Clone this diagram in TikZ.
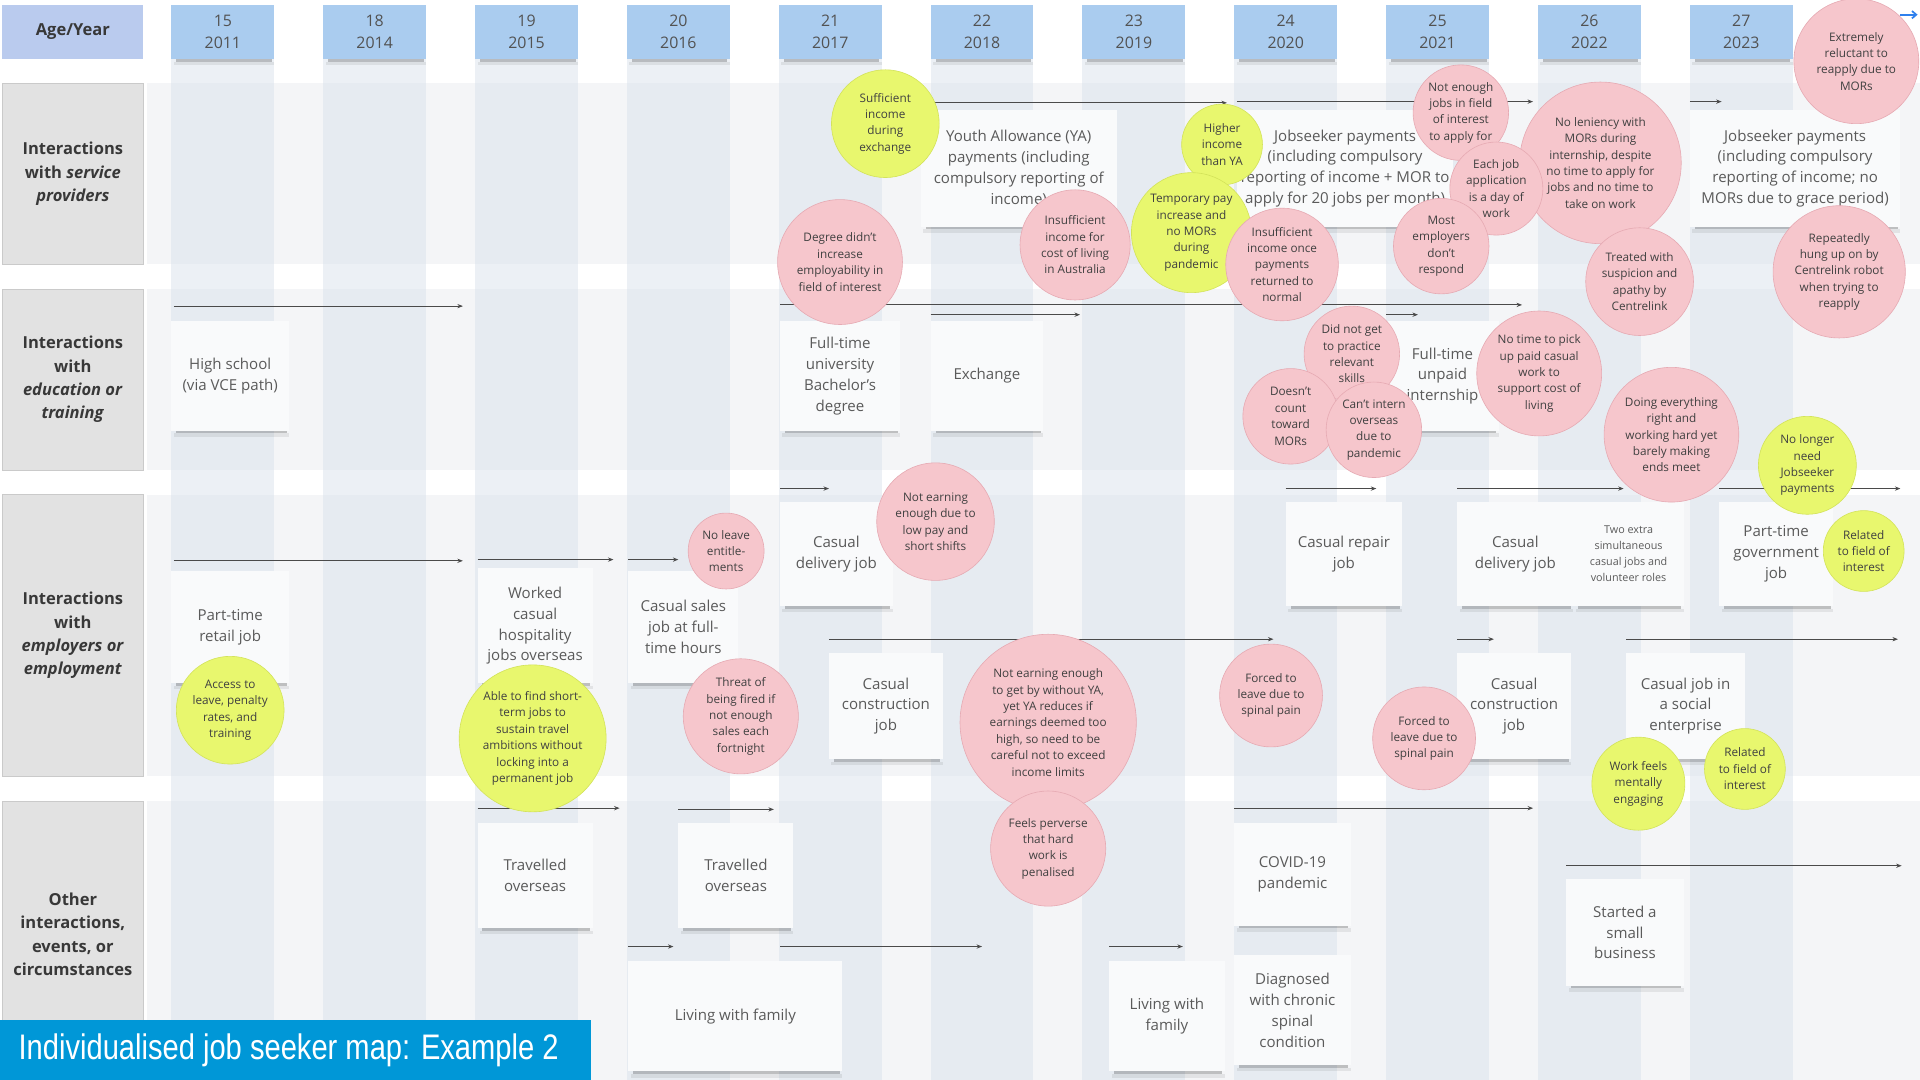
\documentclass[tikz,border=0pt]{standalone}
\usepackage{fontspec}
\setmainfont{Open Sans}
\newfontfamily\titlefont[FakeStretch=0.82]{Liberation Sans}
\usetikzlibrary{arrows.meta}
\definecolor{bandgrey}{HTML}{F4F5F7}
\definecolor{stripe}{HTML}{D6DFEB}
\definecolor{yearblue}{HTML}{AACCEF}
\definecolor{agebox}{HTML}{BACBEE}
\definecolor{labelgrey}{HTML}{E2E2E2}
\definecolor{labelborder}{HTML}{CACACA}
\definecolor{pinkc}{HTML}{F6C6CC}
\definecolor{pinkb}{HTML}{E6AAB3}
\definecolor{yelc}{HTML}{E8F76E}
\definecolor{yelb}{HTML}{D3E35A}
\definecolor{notefill}{HTML}{F9FAFB}
\definecolor{notetext}{HTML}{5A5A5A}
\definecolor{titleblue}{HTML}{0097D7}
\definecolor{arrowgrey}{HTML}{4A4A4A}
\definecolor{iconblue}{HTML}{2F80ED}
\tikzset{
  stickynote/.style={fill=notefill, inner sep=2pt, align=center, text=notetext, font=\fontsize{12.3}{17}\selectfont},
  smallnote/.style={stickynote, font=\fontsize{8.8}{13}\selectfont},
  bubble/.style={circle, inner sep=0pt, align=center, text=black!75, font=\fontsize{9.6}{13.4}\selectfont, line width=0.5pt},
  pinkbub/.style={bubble, fill=pinkc, draw=pinkb},
  yelbub/.style={bubble, fill=yelc, draw=yelb},
  tlarrow/.style={draw=arrowgrey, line width=0.9pt, -{Stealth[length=4.5pt,width=3.5pt]}},
  rowlabel/.style={fill=labelgrey, draw=labelborder, line width=0.5pt, align=center, text=black!78, inner sep=0pt, font=\fontsize{13.5}{19}\selectfont\bfseries},
  yearbox/.style={fill=yearblue, align=center, text=black!68, font=\fontsize{13}{18}\selectfont, minimum width=84pt, minimum height=44pt, inner sep=0pt},
}
% sticky note: [style], name, x1, y1, x2, y2, text
\newcommand\stick[7][stickynote]{%
  \fill[black,opacity=0.22] ({#3+4},{#6-1.5}) rectangle ({#5-2},{#6+2});
  \fill[black,opacity=0.07] ({#3+2},{#6+2}) rectangle ({#5},{#6+5});
  \node[#1, minimum width={#5-#3}, minimum height={#6-#4}] (#2) at ({(#3+#5)/2},{(#4+#6)/2}) {#7};
}
% bubble: name, x, y, r, style, text
\newcommand\bub[6]{\node[#5, minimum size={2*#4}] (#1) at (#2,#3) {#6};}
% timeline arrow: name, x1, x2, y
\newcommand\tl[4]{%
  \coordinate (#1-s) at (#2,#4); \coordinate (#1-e) at (#3,#4);
  \draw[tlarrow] (#1-s) -- (#1-e);
}
\begin{document}
\begin{tikzpicture}[x=1pt,y=-1pt]
\useasboundingbox (0,0) rectangle (1568,882);
\fill[white] (0,0) rectangle (1568,882);
% row bands
\fill[bandgrey] (120,68) rectangle (1568,216);
\fill[bandgrey] (120,236) rectangle (1568,384);
\fill[bandgrey] (120,404) rectangle (1568,634);
\fill[bandgrey] (120,654) rectangle (1568,882);
% column stripes and year boxes
\foreach \x/\a/\yr in {182/15/2011, 306/18/2014, 430/19/2015, 554/20/2016, 678/21/2017, 802/22/2018, 926/23/2019, 1050/24/2020, 1174/25/2021, 1298/26/2022, 1422/27/2023} {
  \fill[stripe, opacity=0.45] (\x-42,4) rectangle (\x+42,882);
  \fill[black, opacity=0.22] (\x-38,47) rectangle (\x+40,50.5);
  \fill[black, opacity=0.07] (\x-40,50.5) rectangle (\x+42,53);
  \node[yearbox] (yr\a) at (\x,26) {\a\\\yr};
}
\node[fill=agebox, minimum width=115pt, minimum height=44pt, inner sep=0pt, font=\fontsize{13.5}{18}\selectfont\bfseries, text=black!78] (age) at (59.5,26) {Age/Year};
% row labels
\node[rowlabel, minimum width=115pt, minimum height=148pt] (lab1) at (59.5,142) {Interactions\\with \textit{service}\\\textit{providers}};
\node[rowlabel, minimum width=115pt, minimum height=148pt] (lab2) at (59.5,310) {Interactions\\with\\\textit{education or}\\\textit{training}};
\node[rowlabel, minimum width=115pt, minimum height=230pt] (lab3) at (59.5,519) {Interactions\\with\\\textit{employers or}\\\textit{employment}};
\node[rowlabel, minimum width=115pt, minimum height=218pt] (lab4) at (59.5,763) {Other\\interactions,\\events, or\\circumstances};

% ---------- arrows ----------
% row 1
\tl{r1a}{762}{1002}{84}
\tl{r1b}{1010}{1252}{83}
\tl{r1c}{1380}{1406}{83}
% row 2
\tl{r2a}{142}{378}{250}
\tl{r2b}{637}{1243}{249}
\tl{r2c}{760}{882}{257}
\tl{r2d}{1132}{1158}{257}
% row 3
\tl{r3a}{142}{378}{458}
\tl{r3b}{390}{501}{457}
\tl{r3c}{513}{554}{457}
\tl{r3d}{637}{677}{399}
\tl{r3e}{677}{1040}{522}
\tl{r3f}{1050}{1124}{399}
\tl{r3g}{1190}{1326}{399}
\tl{r3h}{1190}{1220}{522}
\tl{r3i}{1328}{1550}{522}
\tl{r3j}{1404}{1552}{399}
% row 4
\tl{r4a}{390}{506}{660}
\tl{r4b}{554}{632}{661}
\tl{r4c}{513}{550}{773}
\tl{r4d}{637}{802}{773}
\tl{r4e}{906}{966}{773}
\tl{r4f}{1008}{1252}{660}
\tl{r4g}{1279}{1553}{707}

% ---------- sticky notes ----------
\stick{ya}{752}{90}{912}{185}{Youth Allowance (YA)\\payments (including\\compulsory reporting of\\income)}
\stick{js1}{1010}{90}{1187}{185}{Jobseeker payments\\(including compulsory\\reporting of income + MOR to\\apply for 20 jobs per month)}
\stick{js2}{1380}{90}{1552}{185}{Jobseeker payments\\(including compulsory\\reporting of income; no\\MORs due to grace period)}

\stick{hs}{140}{262}{236}{352}{High school\\(via VCE path)}
\stick{uni}{637}{262}{735}{352}{Full-time\\university\\Bachelor’s\\degree}
\stick{exch}{760}{262}{852}{352}{Exchange}
\stick{intern}{1132}{262}{1224}{352}{Full-time\\unpaid\\internship}

\stick{retail}{140}{466}{236}{558}{Part-time\\retail job}
\stick{hosp}{390}{464}{484}{558}{Worked\\casual\\hospitality\\jobs overseas}
\stick{sales}{513}{466}{603}{558}{Casual sales\\job at full-\\time hours}
\stick{deliv1}{637}{410}{729}{495}{Casual\\delivery job}
\stick{constr1}{677}{533}{770}{620}{Casual\\construction\\job}
\stick{repair}{1050}{410}{1145}{495}{Casual repair\\job}
\stick{deliv2}{1190}{410}{1285}{495}{Casual\\delivery job}
\stick[smallnote]{extra}{1285}{410}{1375}{495}{Two extra\\simultaneous\\casual jobs and\\volunteer roles}
\stick{govt}{1404}{410}{1497}{495}{Part-time\\government\\job}
\stick{constr2}{1190}{533}{1283}{620}{Casual\\construction\\job}
\stick{social}{1328}{533}{1425}{620}{Casual job in\\a social\\enterprise}

\stick{trav1}{390}{672}{484}{758}{Travelled\\overseas}
\stick{trav2}{554}{672}{648}{758}{Travelled\\overseas}
\stick{fam1}{513}{785}{688}{875}{Living with family}
\stick{fam2}{906}{785}{1000}{875}{Living with\\family}
\stick{covid}{1008}{672}{1103}{756}{COVID-19\\pandemic}
\stick{spine}{1008}{780}{1103}{870}{Diagnosed\\with chronic\\spinal\\condition}
\stick{biz}{1279}{718}{1375}{805}{Started a\\small\\business}

% ---------- bubbles ----------
% row 1
\bub{c1}{723}{101}{44}{yelbub}{Sufficient\\income\\during\\exchange}
\bub{c2}{686}{214}{51}{pinkbub}{Degree didn’t\\increase\\employability in\\field of interest}
\bub{c3}{878}{200}{45}{pinkbub}{Insufficient\\income for\\cost of living\\in Australia}
\bub{c4}{998}{118}{33}{yelbub}{Higher\\income\\than YA}
\bub{c5}{973}{190}{49}{yelbub}{Temporary pay\\increase and\\no MORs\\during\\pandemic}
\bub{c6}{1047}{216}{46}{pinkbub}{Insufficient\\income once\\payments\\returned to\\normal}
\bub{c10}{1307}{133}{66}{pinkbub}{No leniency with\\MORs during\\internship, despite\\no time to apply for\\jobs and no time to\\take on work}
\bub{c7}{1193}{92}{39}{pinkbub}{Not enough\\jobs in field\\of interest\\to apply for}
\bub{c8}{1222}{154}{38}{pinkbub}{Each job\\application\\is a day of\\work}
\bub{c9}{1177}{201}{39}{pinkbub}{Most\\employers\\don’t\\respond}
\bub{c11}{1339}{230}{44}{pinkbub}{Treated with\\suspicion and\\apathy by\\Centrelink}
\bub{c12}{1516}{50}{51}{pinkbub}{Extremely\\reluctant to\\reapply due to\\MORs}
\bub{c13}{1502}{222}{54}{pinkbub}{Repeatedly\\hung up on by\\Centrelink robot\\when trying to\\reapply}
% row 2
\bub{c14}{1104}{289}{39}{pinkbub}{Did not get\\to practice\\relevant\\skills}
\bub{c15}{1054}{340}{39}{pinkbub}{Doesn’t\\count\\toward\\MORs}
\bub{c16}{1122}{351}{39}{pinkbub}{Can’t intern\\overseas\\due to\\pandemic}
\bub{c17}{1257}{305}{51}{pinkbub}{No time to pick\\up paid casual\\work to\\support cost of\\living}
\bub{c18}{1365}{355}{55}{pinkbub}{Doing everything\\right and\\working hard yet\\barely making\\ends meet}
\bub{c19}{1476}{380}{40}{yelbub}{No longer\\need\\Jobseeker\\payments}
% row 3
\bub{c20}{593}{450}{31}{pinkbub}{No leave\\entitle-\\ments}
\bub{c21}{764}{426}{48}{pinkbub}{Not earning\\enough due to\\low pay and\\short shifts}
\bub{c22}{188}{580}{44}{yelbub}{Access to\\leave, penalty\\rates, and\\training}
\bub{c23}{435}{603}{60}{yelbub}{Able to find short-\\term jobs to\\sustain travel\\ambitions without\\locking into a\\permanent job}
\bub{c24}{605}{585}{47}{pinkbub}{Threat of\\being fired if\\not enough\\sales each\\fortnight}
\bub{c25}{856}{590}{72}{pinkbub}{Not earning enough\\to get by without YA,\\yet YA reduces if\\earnings deemed too\\high, so need to be\\careful not to exceed\\income limits}
\bub{c26}{856}{693}{47}{pinkbub}{Feels perverse\\that hard\\work is\\penalised}
\bub{c27}{1038}{568}{42}{pinkbub}{Forced to\\leave due to\\spinal pain}
\bub{c28}{1163}{603}{42}{pinkbub}{Forced to\\leave due to\\spinal pain}
\bub{c29}{1338}{640}{38}{yelbub}{Work feels\\mentally\\engaging}
\bub{c30}{1425}{628}{33}{yelbub}{Related\\to field of\\interest}
\bub{c31}{1522}{450}{33}{yelbub}{Related\\to field of\\interest}

% top-right icon arrow
\coordinate (iconA) at (1552,12); \coordinate (iconB) at (1566,12);
\draw[iconblue, line width=1.4pt, -{Straight Barb[length=3.5pt,width=6pt]}] (iconA) -- (iconB);

% title bar
\fill[titleblue] (0,833) rectangle (483,882);
\node[anchor=west, text=white, font=\titlefont\fontsize{29}{32}\selectfont, inner sep=0pt] (title) at (15,858) {Individualised job seeker map: Example 2};
\end{tikzpicture}
\end{document}
